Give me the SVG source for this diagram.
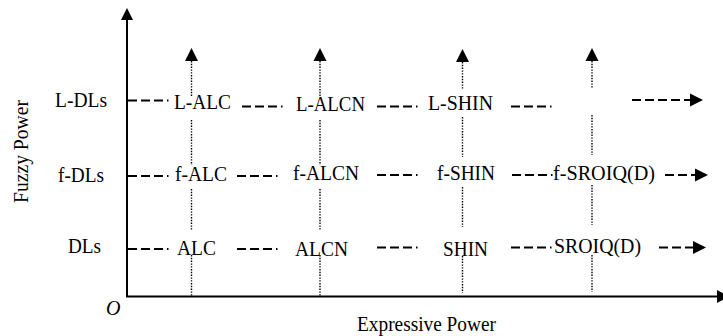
<svg xmlns="http://www.w3.org/2000/svg" width="723" height="336" viewBox="0 0 723 336">
<defs>
<style>
text{font-family:"Liberation Serif","Times New Roman",serif;font-size:20px;fill:#000}
.axis{stroke:#000;stroke-width:2;fill:none}
.dash{stroke:#000;stroke-width:1.8;fill:none;stroke-dasharray:9 4}
.dot{stroke:#000;stroke-width:1.4;fill:none;stroke-dasharray:1.4 1.4}
.head{fill:#000}
</style>
</defs>
<rect width="723" height="336" fill="#fff"/>
<g id="axes">
<line class="axis" x1="127" y1="297" x2="127" y2="18"/>
<polygon class="head" points="127,8 121,20 133,20"/>
<line class="axis" x1="126" y1="296.5" x2="718" y2="296.5"/>
<polygon class="head" points="717,290 729,296.5 717,303"/>
<text x="106" y="315" font-style="italic">O</text>
<text x="357" y="331" textLength="139" lengthAdjust="spacingAndGlyphs">Expressive Power</text>
<text transform="translate(28,151.5) rotate(-90)" text-anchor="middle" textLength="103" lengthAdjust="spacingAndGlyphs">Fuzzy Power</text>
</g>
<g id="row-labels">
<text x="55" y="107" textLength="52" lengthAdjust="spacingAndGlyphs">L-DLs</text>
<text x="58" y="182" textLength="46" lengthAdjust="spacingAndGlyphs">f-DLs</text>
<text x="68" y="253" textLength="33" lengthAdjust="spacingAndGlyphs">DLs</text>
</g>
<g id="n-L-ALC"><text x="174" y="109" textLength="57" lengthAdjust="spacingAndGlyphs">L-ALC</text></g>
<g id="n-L-ALCN"><text x="296" y="111" textLength="69" lengthAdjust="spacingAndGlyphs">L-ALCN</text></g>
<g id="n-L-SHIN"><text x="428" y="110" textLength="65" lengthAdjust="spacingAndGlyphs">L-SHIN</text></g>
<g id="n-f-ALC"><text x="175" y="181" textLength="52" lengthAdjust="spacingAndGlyphs">f-ALC</text></g>
<g id="n-f-ALCN"><text x="293" y="180" textLength="66" lengthAdjust="spacingAndGlyphs">f-ALCN</text></g>
<g id="n-f-SHIN"><text x="437" y="180" textLength="58" lengthAdjust="spacingAndGlyphs">f-SHIN</text></g>
<g id="n-f-SROIQD"><text x="553" y="180" textLength="102" lengthAdjust="spacingAndGlyphs">f-SROIQ(D)</text></g>
<g id="n-ALC"><text x="177" y="255" textLength="39" lengthAdjust="spacingAndGlyphs">ALC</text></g>
<g id="n-ALCN"><text x="295" y="256" textLength="53" lengthAdjust="spacingAndGlyphs">ALCN</text></g>
<g id="n-SHIN"><text x="443" y="256" textLength="45" lengthAdjust="spacingAndGlyphs">SHIN</text></g>
<g id="n-SROIQD"><text x="554" y="253" textLength="87" lengthAdjust="spacingAndGlyphs">SROIQ(D)</text></g>
<g id="connectors">
<line class="dash" x1="128" y1="100.5" x2="168.5" y2="100.5"/>
<line class="dash" x1="242" y1="106.5" x2="282.5" y2="106.5"/>
<line class="dash" x1="377" y1="106.5" x2="417.5" y2="106.5"/>
<line class="dash" x1="511" y1="106.5" x2="551.5" y2="106.5"/>
<line class="dash" x1="632" y1="100" x2="691" y2="100"/>
<polygon class="head" points="690,93.5 703,100 690,106.5"/>
<line class="dash" x1="128" y1="176" x2="168.5" y2="176"/>
<line class="dash" x1="237" y1="176" x2="277.5" y2="176"/>
<line class="dash" x1="377" y1="175" x2="417.5" y2="175"/>
<line class="dash" x1="512" y1="175" x2="552.5" y2="175"/>
<line class="dash" x1="665" y1="175" x2="696" y2="175"/>
<polygon class="head" points="695,168.5 708,175 695,181.5"/>
<line class="dash" x1="128" y1="249" x2="168.5" y2="249"/>
<line class="dash" x1="237" y1="249" x2="277.5" y2="249"/>
<line class="dash" x1="377" y1="247.5" x2="417.5" y2="247.5"/>
<line class="dash" x1="511" y1="247.5" x2="551.5" y2="247.5"/>
<line class="dash" x1="659" y1="247.5" x2="694" y2="247.5"/>
<polygon class="head" points="693,241 706,247.5 693,254"/>
<polygon class="head" points="191.5,48 185,61 198,61"/>
<line class="dot" x1="191.5" y1="61" x2="191.5" y2="97"/>
<line class="dot" x1="191.5" y1="120" x2="191.5" y2="165"/>
<line class="dot" x1="191.5" y1="189" x2="191.5" y2="230"/>
<line class="dot" x1="191.5" y1="255" x2="191.5" y2="296"/>
<polygon class="head" points="320,48 313.5,61 326.5,61"/>
<line class="dot" x1="320" y1="61" x2="320" y2="97"/>
<line class="dot" x1="320" y1="120" x2="320" y2="165"/>
<line class="dot" x1="320" y1="189" x2="320" y2="230"/>
<line class="dot" x1="320" y1="255" x2="320" y2="296"/>
<polygon class="head" points="462.5,49 456,62 469,62"/>
<line class="dot" x1="462.5" y1="62" x2="462.5" y2="89"/>
<line class="dot" x1="462.5" y1="117" x2="462.5" y2="157"/>
<line class="dot" x1="462.5" y1="187" x2="462.5" y2="227"/>
<line class="dot" x1="462.5" y1="256" x2="462.5" y2="293"/>
<polygon class="head" points="592,48 585.5,61 598.5,61"/>
<line class="dot" x1="592" y1="61" x2="592" y2="88"/>
<line class="dot" x1="592" y1="115" x2="592" y2="155"/>
<line class="dot" x1="592" y1="185" x2="592" y2="225"/>
<line class="dot" x1="592" y1="255" x2="592" y2="292"/>
</g>
</svg>
